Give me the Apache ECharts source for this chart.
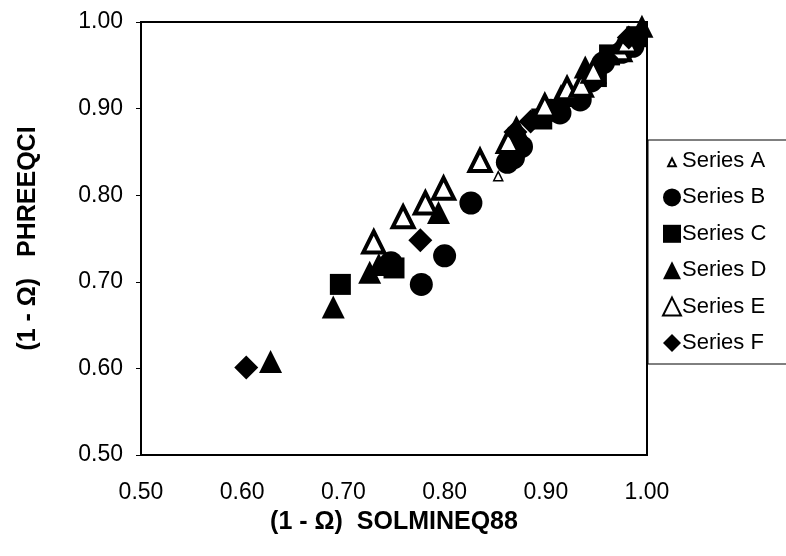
<!DOCTYPE html>
<html><head><meta charset="utf-8">
<script src="https://cdn.jsdelivr.net/npm/echarts@6/dist/echarts.min.js"></script>
<style>html,body{margin:0;padding:0;background:#fff}#c{width:786px;height:556px}</style>
</head><body><div id="c"></div>
<script>
const seriesNames = ['Series A','Series B','Series C','Series D','Series E','Series F'];
const xTicks = [0.5, 0.6, 0.7, 0.8, 0.9, 1.0];
const seriesA = [[0.853,0.822],[0.922,0.922],[0.952,0.948],[0.975,0.975]];
const seriesB = [[0.747,0.722],[0.777,0.697],[0.800,0.730],[0.826,0.791],[0.862,0.838],[0.868,0.843],[0.876,0.856],[0.905,0.898],[0.914,0.895],[0.934,0.910],[0.945,0.932],[0.957,0.953],[0.975,0.965],[0.986,0.972]];
const seriesC = [[0.697,0.697],[0.750,0.716],[0.896,0.888],[0.950,0.937],[0.963,0.962],[0.990,0.983]];
const seriesD = [[0.628,0.608],[0.690,0.671],[0.726,0.711],[0.735,0.720],[0.794,0.780],[0.871,0.879],[0.915,0.915],[0.939,0.948],[0.995,0.995]];
const seriesE = [[0.730,0.746],[0.759,0.775],[0.781,0.791],[0.799,0.808],[0.835,0.840],[0.863,0.862],[0.899,0.903],[0.921,0.923],[0.935,0.927],[0.947,0.943],[0.973,0.968],[0.980,0.977]];
const seriesF = [[0.604,0.601],[0.776,0.748],[0.870,0.873],[0.885,0.885],[0.960,0.958],[0.982,0.982]];

const chart = echarts.init(document.getElementById('c'), null, {renderer:'canvas'});
const FONT = 'Liberation Sans';
function sc(name, data, symbol, size, style){
  return {name, type:'scatter', data, symbol, symbolSize:size, itemStyle:Object.assign({opacity:1}, style), animation:false};
}
const smallTri = 'path://M0,0L0.001,0M7,5L10,11L4,11ZM14,14L13.999,14';
chart.setOption({
  backgroundColor:'#fff',
  textStyle:{fontFamily:FONT},
  grid:{left:141, right:139, top:22, bottom:101, show:true, borderColor:'#000', borderWidth:2, backgroundColor:'transparent'},
  xAxis:{type:'value', min:0.5, max:1.0, interval:0.1,
    name:'(1 - \u03A9)  SOLMINEQ88', nameLocation:'middle', nameGap:55,
    nameTextStyle:{fontFamily:FONT, fontSize:25, fontWeight:'bold', color:'#000'},
    axisLine:{show:true, lineStyle:{color:'#000', width:2}},
    axisTick:{show:false},
    splitLine:{show:false},
    axisLabel:{formatter:v=>v.toFixed(2), fontFamily:FONT, fontSize:23, color:'#000', margin:26}},
  yAxis:{type:'value', min:0.5, max:1.0, interval:0.1,
    name:'(1 - \u03A9)   PHREEQCI', nameLocation:'middle', nameGap:100,
    nameTextStyle:{fontFamily:FONT, fontSize:25, fontWeight:'bold', color:'#000'},
    axisLine:{show:true, lineStyle:{color:'#000', width:2}},
    axisTick:{show:true, length:5, lineStyle:{color:'#000', width:1}},
    splitLine:{show:false},
    axisLabel:{formatter:v=>v.toFixed(2), fontFamily:FONT, fontSize:23, color:'#000', margin:18}},
  legend:{orient:'vertical', left:648, top:140, itemGap:14.4, itemWidth:18, itemHeight:18,
    padding:[10,60,10,14], borderColor:'#000', borderWidth:1,
    textStyle:{fontFamily:FONT, fontSize:22, color:'#000', padding:[0,0,0,-4]},
    data:[{name:seriesNames[0], icon:smallTri}].concat(seriesNames.slice(1))},
  series:[
    sc(seriesNames[0], seriesA, 'triangle', 9, {color:'#fff', borderColor:'#000', borderWidth:1.5}),
    sc(seriesNames[1], seriesB, 'circle', 23, {color:'#000'}),
    sc(seriesNames[2], seriesC, 'rect', 21, {color:'#000'}),
    sc(seriesNames[3], seriesD, 'triangle', 23, {color:'#000'}),
    sc(seriesNames[4], seriesE, 'triangle', 21, {color:'#fff', borderColor:'#000', borderWidth:4}),
    sc(seriesNames[5], seriesF, 'diamond', 24, {color:'#000'})
  ]
});
</script></body></html>
